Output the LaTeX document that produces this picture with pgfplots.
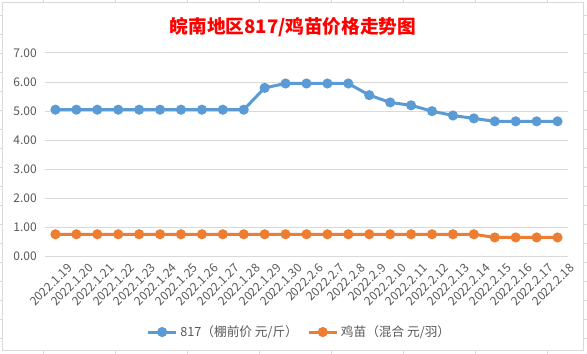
\documentclass[border=0pt]{standalone}
\usepackage{fontspec}
\setmainfont{Noto Sans CJK SC}
\usepackage{pgfplots}
\pgfplotsset{compat=1.18}
\definecolor{sblue}{HTML}{5B9BD5}
\definecolor{sorange}{HTML}{ED7D31}
\definecolor{tickgray}{HTML}{595959}
\definecolor{gridgray}{HTML}{D9D9D9}
\definecolor{sheetgrid}{RGB}{212,216,224}
\begin{document}
\begin{tikzpicture}
\path[use as bounding box] (0,0) rectangle (440.25pt,265.5pt);
\begin{scope}[line width=0.75pt, draw=sheetgrid]
\foreach \c in {43,115,187,259,331,403,475,547} \draw[sheetgrid] ({\c*0.75pt},0) -- ({\c*0.75pt},265.5pt);
\foreach \r in {0,...,18} \draw[sheetgrid] (0,{(354-16-19*\r)*0.75pt}) -- (440.25pt,{(354-16-19*\r)*0.75pt});
\end{scope}
\draw[fill=white, draw=gridgray, line width=0.75pt] (1.5pt,2.25pt) rectangle (437.25pt,263.25pt);
\node[text=red, font=\fontsize{14}{16}\selectfont\bfseries] at (219.75pt,245.25pt) {皖南地区817/鸡苗价格走势图};
\begin{axis}[
  at={(33.75pt,73pt)}, anchor=south west,
  scale only axis, width=392.25pt, height=152.8pt,
  xmin=-0.5, xmax=24.5, ymin=0, ymax=7,
  ytick={0,1,...,7},
  xtick={0,1,...,24},
  xticklabels={2022.1.19,2022.1.20,2022.1.21,2022.1.22,2022.1.23,2022.1.24,2022.1.25,2022.1.26,2022.1.27,2022.1.28,2022.1.29,2022.1.30,2022.2.6,2022.2.7,2022.2.8,2022.2.9,2022.2.10,2022.2.11,2022.2.12,2022.2.13,2022.2.14,2022.2.15,2022.2.16,2022.2.17,2022.2.18},
  /pgf/number format/assume math mode=true,
  yticklabel={\pgfmathprintnumber[fixed,fixed zerofill,precision=2]{\tick}},
  ymajorgrids, grid style={gridgray, line width=0.75pt},
  axis line style={draw=none},
  major tick length=0pt,
  tick label style={font=\fontsize{9}{10}\selectfont, text=tickgray},
  yticklabel style={anchor=east, inner sep=0pt, xshift=-6pt},
  xticklabel style={rotate=45, anchor=north east, inner sep=0pt, xshift=3pt, yshift=-9pt},
  legend columns=2,
  legend style={at={(0.487,-0.37)}, anchor=center, draw=none, fill=none,
    font=\fontsize{9.5}{10}\selectfont, text=tickgray,
    /tikz/every even column/.append style={column sep=5pt}},
  legend image code/.code={\draw[mark repeat=2,mark phase=2,#1] plot coordinates {(0cm,0cm) (0.37cm,0cm) (0.74cm,0cm)};},
  every axis plot/.append style={line width=2.25pt, mark=*, mark size=2.6pt},
]
\addplot[sblue, mark options={fill=sblue, draw=sblue}] coordinates {
(0,5.05)(1,5.05)(2,5.05)(3,5.05)(4,5.05)(5,5.05)(6,5.05)(7,5.05)(8,5.05)(9,5.05)
(10,5.80)(11,5.95)(12,5.95)(13,5.95)(14,5.95)(15,5.55)(16,5.30)(17,5.20)(18,5.00)
(19,4.85)(20,4.75)(21,4.65)(22,4.65)(23,4.65)(24,4.65)};
\addlegendentry{817（棚前价 元/斤）}
\addplot[sorange, mark options={fill=sorange, draw=sorange}] coordinates {
(0,0.77)(1,0.77)(2,0.77)(3,0.77)(4,0.77)(5,0.77)(6,0.77)(7,0.77)(8,0.77)(9,0.77)
(10,0.77)(11,0.77)(12,0.77)(13,0.77)(14,0.77)(15,0.77)(16,0.77)(17,0.77)(18,0.77)
(19,0.77)(20,0.77)(21,0.66)(22,0.66)(23,0.66)(24,0.66)};
\addlegendentry{鸡苗（混合 元/羽）}
\end{axis}
\end{tikzpicture}
\end{document}
